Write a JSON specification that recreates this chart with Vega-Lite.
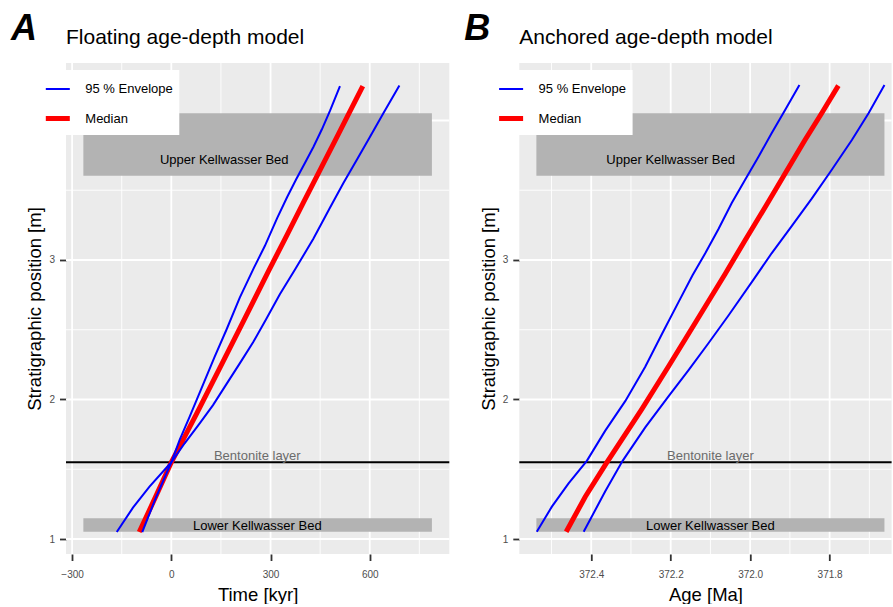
{
  "$schema": "https://vega.github.io/schema/vega-lite/v6.json",
  "padding": {"left": 10, "top": 10, "right": 0, "bottom": 0},
  "spacing": 12.3,
  "background": "white",
  "datasets": {
    "linesA": [
      {"line": "median", "series": "Median", "x": -97, "y": 1.05},
      {"line": "median", "series": "Median", "x": -48, "y": 1.3},
      {"line": "median", "series": "Median", "x": 0, "y": 1.55},
      {"line": "median", "series": "Median", "x": 75.8, "y": 1.895},
      {"line": "median", "series": "Median", "x": 146.4, "y": 2.225},
      {"line": "median", "series": "Median", "x": 217, "y": 2.556},
      {"line": "median", "series": "Median", "x": 292.7, "y": 2.915},
      {"line": "median", "series": "Median", "x": 350, "y": 3.18},
      {"line": "median", "series": "Median", "x": 400, "y": 3.415},
      {"line": "median", "series": "Median", "x": 455, "y": 3.67},
      {"line": "median", "series": "Median", "x": 506, "y": 3.905},
      {"line": "median", "series": "Median", "x": 579, "y": 4.247},
      {"line": "fast", "series": "95 % Envelope", "x": -88, "y": 1.05},
      {"line": "fast", "series": "95 % Envelope", "x": -45.5, "y": 1.303},
      {"line": "fast", "series": "95 % Envelope", "x": 0, "y": 1.55},
      {"line": "fast", "series": "95 % Envelope", "x": 25.2, "y": 1.71},
      {"line": "fast", "series": "95 % Envelope", "x": 55.5, "y": 1.877},
      {"line": "fast", "series": "95 % Envelope", "x": 100, "y": 2.13},
      {"line": "fast", "series": "95 % Envelope", "x": 131.2, "y": 2.307},
      {"line": "fast", "series": "95 % Envelope", "x": 166.7, "y": 2.5},
      {"line": "fast", "series": "95 % Envelope", "x": 207, "y": 2.73},
      {"line": "fast", "series": "95 % Envelope", "x": 250, "y": 2.945},
      {"line": "fast", "series": "95 % Envelope", "x": 282.7, "y": 3.1},
      {"line": "fast", "series": "95 % Envelope", "x": 320, "y": 3.3},
      {"line": "fast", "series": "95 % Envelope", "x": 350, "y": 3.45},
      {"line": "fast", "series": "95 % Envelope", "x": 378, "y": 3.58},
      {"line": "fast", "series": "95 % Envelope", "x": 404, "y": 3.695},
      {"line": "fast", "series": "95 % Envelope", "x": 430, "y": 3.812},
      {"line": "fast", "series": "95 % Envelope", "x": 455, "y": 3.935},
      {"line": "fast", "series": "95 % Envelope", "x": 480, "y": 4.07},
      {"line": "fast", "series": "95 % Envelope", "x": 510, "y": 4.247},
      {"line": "slow", "series": "95 % Envelope", "x": -165, "y": 1.05},
      {"line": "slow", "series": "95 % Envelope", "x": -116, "y": 1.225},
      {"line": "slow", "series": "95 % Envelope", "x": -66, "y": 1.375},
      {"line": "slow", "series": "95 % Envelope", "x": 0, "y": 1.55},
      {"line": "slow", "series": "95 % Envelope", "x": 40.3, "y": 1.686},
      {"line": "slow", "series": "95 % Envelope", "x": 85.8, "y": 1.829},
      {"line": "slow", "series": "95 % Envelope", "x": 126.1, "y": 1.96},
      {"line": "slow", "series": "95 % Envelope", "x": 166.7, "y": 2.11},
      {"line": "slow", "series": "95 % Envelope", "x": 207, "y": 2.259},
      {"line": "slow", "series": "95 % Envelope", "x": 247.3, "y": 2.41},
      {"line": "slow", "series": "95 % Envelope", "x": 287.9, "y": 2.58},
      {"line": "slow", "series": "95 % Envelope", "x": 328.2, "y": 2.755},
      {"line": "slow", "series": "95 % Envelope", "x": 373.6, "y": 2.93},
      {"line": "slow", "series": "95 % Envelope", "x": 429.1, "y": 3.15},
      {"line": "slow", "series": "95 % Envelope", "x": 479.7, "y": 3.375},
      {"line": "slow", "series": "95 % Envelope", "x": 520, "y": 3.55},
      {"line": "slow", "series": "95 % Envelope", "x": 560.6, "y": 3.717},
      {"line": "slow", "series": "95 % Envelope", "x": 600.9, "y": 3.884},
      {"line": "slow", "series": "95 % Envelope", "x": 641.2, "y": 4.052},
      {"line": "slow", "series": "95 % Envelope", "x": 689.7, "y": 4.25}
    ],
    "linesB": [
      {"line": "median", "series": "Median", "x": 372.463, "y": 1.052},
      {"line": "median", "series": "Median", "x": 372.415, "y": 1.303},
      {"line": "median", "series": "Median", "x": 372.361, "y": 1.547},
      {"line": "median", "series": "Median", "x": 372.273, "y": 1.93},
      {"line": "median", "series": "Median", "x": 372.206, "y": 2.235},
      {"line": "median", "series": "Median", "x": 372.138, "y": 2.55},
      {"line": "median", "series": "Median", "x": 372.063, "y": 2.9},
      {"line": "median", "series": "Median", "x": 372.013, "y": 3.14},
      {"line": "median", "series": "Median", "x": 371.962, "y": 3.38},
      {"line": "median", "series": "Median", "x": 371.912, "y": 3.62},
      {"line": "median", "series": "Median", "x": 371.862, "y": 3.86},
      {"line": "median", "series": "Median", "x": 371.82, "y": 4.052},
      {"line": "median", "series": "Median", "x": 371.778, "y": 4.25},
      {"line": "old", "series": "95 % Envelope", "x": 372.537, "y": 1.052},
      {"line": "old", "series": "95 % Envelope", "x": 372.499, "y": 1.232},
      {"line": "old", "series": "95 % Envelope", "x": 372.457, "y": 1.399},
      {"line": "old", "series": "95 % Envelope", "x": 372.411, "y": 1.56},
      {"line": "old", "series": "95 % Envelope", "x": 372.365, "y": 1.775},
      {"line": "old", "series": "95 % Envelope", "x": 372.314, "y": 1.99},
      {"line": "old", "series": "95 % Envelope", "x": 372.264, "y": 2.235},
      {"line": "old", "series": "95 % Envelope", "x": 372.222, "y": 2.47},
      {"line": "old", "series": "95 % Envelope", "x": 372.18, "y": 2.7},
      {"line": "old", "series": "95 % Envelope", "x": 372.145, "y": 2.89},
      {"line": "old", "series": "95 % Envelope", "x": 372.113, "y": 3.048},
      {"line": "old", "series": "95 % Envelope", "x": 372.08, "y": 3.22},
      {"line": "old", "series": "95 % Envelope", "x": 372.046, "y": 3.41},
      {"line": "old", "series": "95 % Envelope", "x": 372.013, "y": 3.573},
      {"line": "old", "series": "95 % Envelope", "x": 371.979, "y": 3.74},
      {"line": "old", "series": "95 % Envelope", "x": 371.946, "y": 3.908},
      {"line": "old", "series": "95 % Envelope", "x": 371.912, "y": 4.075},
      {"line": "old", "series": "95 % Envelope", "x": 371.876, "y": 4.254},
      {"line": "young", "series": "95 % Envelope", "x": 372.419, "y": 1.052},
      {"line": "young", "series": "95 % Envelope", "x": 372.365, "y": 1.34},
      {"line": "young", "series": "95 % Envelope", "x": 372.321, "y": 1.56},
      {"line": "young", "series": "95 % Envelope", "x": 372.264, "y": 1.8},
      {"line": "young", "series": "95 % Envelope", "x": 372.206, "y": 2.02},
      {"line": "young", "series": "95 % Envelope", "x": 372.155, "y": 2.211},
      {"line": "young", "series": "95 % Envelope", "x": 372.105, "y": 2.403},
      {"line": "young", "series": "95 % Envelope", "x": 372.055, "y": 2.6},
      {"line": "young", "series": "95 % Envelope", "x": 371.992, "y": 2.857},
      {"line": "young", "series": "95 % Envelope", "x": 371.946, "y": 3.048},
      {"line": "young", "series": "95 % Envelope", "x": 371.895, "y": 3.245},
      {"line": "young", "series": "95 % Envelope", "x": 371.845, "y": 3.44},
      {"line": "young", "series": "95 % Envelope", "x": 371.795, "y": 3.645},
      {"line": "young", "series": "95 % Envelope", "x": 371.744, "y": 3.86},
      {"line": "young", "series": "95 % Envelope", "x": 371.702, "y": 4.052},
      {"line": "young", "series": "95 % Envelope", "x": 371.662, "y": 4.254}
    ],
    "bedsA": [
      {"bed": "Upper Kellwasser Bed", "x1": -266, "x2": 788, "y1": 3.604, "y2": 4.052},
      {"bed": "Lower Kellwasser Bed", "x1": -266, "x2": 788, "y1": 1.052, "y2": 1.148}
    ],
    "bedsB": [
      {"bed": "Upper Kellwasser Bed", "x1": 372.538, "x2": 371.662, "y1": 3.604, "y2": 4.052},
      {"bed": "Lower Kellwasser Bed", "x1": 372.538, "x2": 371.662, "y1": 1.052, "y2": 1.148}
    ],
    "labelsA": [
      {"kind": "bed", "label": "Upper Kellwasser Bed", "x": 160, "y": 3.72},
      {"kind": "bed", "label": "Lower Kellwasser Bed", "x": 260, "y": 1.093},
      {"kind": "layer", "label": "Bentonite layer", "x": 260, "y": 1.595}
    ],
    "labelsB": [
      {"kind": "bed", "label": "Upper Kellwasser Bed", "x": 372.2, "y": 3.72},
      {"kind": "bed", "label": "Lower Kellwasser Bed", "x": 372.1, "y": 1.093},
      {"kind": "layer", "label": "Bentonite layer", "x": 372.1, "y": 1.595}
    ],
    "bentonite": [{"y": 1.55}],
    "majorXA": [{"x": -300}, {"x": 0}, {"x": 300}, {"x": 600}],
    "minorXA": [{"x": -150}, {"x": 150}, {"x": 450}, {"x": 750}],
    "majorXB": [{"x": 372.4}, {"x": 372.2}, {"x": 372.0}, {"x": 371.8}],
    "minorXB": [{"x": 372.5}, {"x": 372.3}, {"x": 372.1}, {"x": 371.9}, {"x": 371.7}],
    "majorY": [{"y": 1}, {"y": 2}, {"y": 3}, {"y": 4}],
    "minorY": [{"y": 1.5}, {"y": 2.5}, {"y": 3.5}]
  },
  "hconcat": [
    {
      "title": {"text": "A", "anchor": "start", "frame": "bounds", "fontSize": 36, "fontStyle": "italic", "fontWeight": "bold", "color": "black", "dx": -15, "dy": 24.7},
      "vconcat": [
        {
          "width": 383.3,
          "height": 491,
          "title": {"text": "Floating age-depth model", "anchor": "start", "frame": "group", "fontSize": 21, "fontWeight": "normal", "color": "black", "baseline": "alphabetic", "offset": -3},
          "layer": [
            {
              "data": {"name": "bedsA"},
              "mark": {"type": "rect", "color": "#B3B3B3", "opacity": 0},
              "encoding": {
                "x": {"field": "x1", "type": "quantitative", "scale": {"domain": [-318.5, 840.6], "nice": false, "zero": false}, "axis": {"grid": false, "values": [-300, 0, 300, 600], "format": "d", "title": "Time [kyr]"}},
                "x2": {"field": "x2"},
                "y": {"field": "y1", "type": "quantitative", "scale": {"domain": [0.8925, 4.412], "nice": false, "zero": false}, "axis": {"grid": false, "values": [1, 2, 3, 4], "format": "d", "title": "Stratigraphic position [m]"}},
                "y2": {"field": "y2"}
              }
            },
            {"data": {"name": "minorXA"}, "mark": {"type": "rule", "color": "#FFFFFF", "strokeWidth": 0.9}, "encoding": {"x": {"field": "x", "type": "quantitative"}}},
            {"data": {"name": "minorY"}, "mark": {"type": "rule", "color": "#FFFFFF", "strokeWidth": 0.9}, "encoding": {"y": {"field": "y", "type": "quantitative"}}},
            {"data": {"name": "majorXA"}, "mark": {"type": "rule", "color": "#FFFFFF", "strokeWidth": 1.8}, "encoding": {"x": {"field": "x", "type": "quantitative"}}},
            {"data": {"name": "majorY"}, "mark": {"type": "rule", "color": "#FFFFFF", "strokeWidth": 1.8}, "encoding": {"y": {"field": "y", "type": "quantitative"}}},
            {
              "data": {"name": "bedsA"},
              "mark": {"type": "rect", "color": "#B3B3B3"},
              "encoding": {
                "x": {"field": "x1", "type": "quantitative"},
                "x2": {"field": "x2"},
                "y": {"field": "y1", "type": "quantitative"},
                "y2": {"field": "y2"}
              }
            },
            {
              "data": {"name": "bentonite"},
              "mark": {"type": "rule", "color": "black", "strokeWidth": 2.2},
              "encoding": {"y": {"field": "y", "type": "quantitative"}}
            },
            {
              "data": {"name": "labelsA"},
              "transform": [{"filter": "datum.kind === 'bed'"}],
              "mark": {"type": "text", "fontSize": 13, "color": "black", "baseline": "middle"},
              "encoding": {"x": {"field": "x", "type": "quantitative"}, "y": {"field": "y", "type": "quantitative"}, "text": {"field": "label"}}
            },
            {
              "data": {"name": "labelsA"},
              "transform": [{"filter": "datum.kind === 'layer'"}],
              "mark": {"type": "text", "fontSize": 13, "color": "#6B6B6B", "baseline": "middle"},
              "encoding": {"x": {"field": "x", "type": "quantitative"}, "y": {"field": "y", "type": "quantitative"}, "text": {"field": "label"}}
            },
            {
              "data": {"name": "linesA"},
              "mark": {"type": "line", "strokeCap": "butt"},
              "encoding": {
                "x": {"field": "x", "type": "quantitative"},
                "y": {"field": "y", "type": "quantitative"},
                "detail": {"field": "line"},
                "order": {"field": "y", "type": "quantitative"},
                "color": {"field": "series", "type": "nominal", "scale": {"domain": ["95 % Envelope", "Median"], "range": ["#0000FF", "#FF0000"]}, "legend": {"title": null, "orient": "none", "legendX": -28.7, "legendY": 7}},
                "strokeWidth": {"field": "series", "type": "nominal", "scale": {"domain": ["95 % Envelope", "Median"], "range": [2, 5]}, "legend": {"title": null, "orient": "none", "legendX": -28.7, "legendY": 7}}
              }
            }
          ]
        }
      ]
    },
    {
      "title": {"text": "B", "anchor": "start", "frame": "bounds", "fontSize": 36, "fontStyle": "italic", "fontWeight": "bold", "color": "black", "dx": -15, "dy": 24.7},
      "vconcat": [
        {
          "width": 372.3,
          "height": 491,
          "title": {"text": "Anchored age-depth model", "anchor": "start", "frame": "group", "fontSize": 21, "fontWeight": "normal", "color": "black", "baseline": "alphabetic", "offset": -3},
          "layer": [
            {
              "data": {"name": "bedsB"},
              "mark": {"type": "rect", "color": "#B3B3B3", "opacity": 0},
              "encoding": {
                "x": {"field": "x1", "type": "quantitative", "scale": {"domain": [371.644, 372.581], "reverse": true, "nice": false, "zero": false}, "axis": {"grid": false, "values": [372.4, 372.2, 372.0, 371.8], "format": ".1f", "title": "Age [Ma]"}},
                "x2": {"field": "x2"},
                "y": {"field": "y1", "type": "quantitative", "scale": {"domain": [0.8925, 4.412], "nice": false, "zero": false}, "axis": {"grid": false, "values": [1, 2, 3, 4], "format": "d", "title": "Stratigraphic position [m]"}},
                "y2": {"field": "y2"}
              }
            },
            {"data": {"name": "minorXB"}, "mark": {"type": "rule", "color": "#FFFFFF", "strokeWidth": 0.9}, "encoding": {"x": {"field": "x", "type": "quantitative"}}},
            {"data": {"name": "minorY"}, "mark": {"type": "rule", "color": "#FFFFFF", "strokeWidth": 0.9}, "encoding": {"y": {"field": "y", "type": "quantitative"}}},
            {"data": {"name": "majorXB"}, "mark": {"type": "rule", "color": "#FFFFFF", "strokeWidth": 1.8}, "encoding": {"x": {"field": "x", "type": "quantitative"}}},
            {"data": {"name": "majorY"}, "mark": {"type": "rule", "color": "#FFFFFF", "strokeWidth": 1.8}, "encoding": {"y": {"field": "y", "type": "quantitative"}}},
            {
              "data": {"name": "bedsB"},
              "mark": {"type": "rect", "color": "#B3B3B3"},
              "encoding": {
                "x": {"field": "x1", "type": "quantitative"},
                "x2": {"field": "x2"},
                "y": {"field": "y1", "type": "quantitative"},
                "y2": {"field": "y2"}
              }
            },
            {
              "data": {"name": "bentonite"},
              "mark": {"type": "rule", "color": "black", "strokeWidth": 2.2},
              "encoding": {"y": {"field": "y", "type": "quantitative"}}
            },
            {
              "data": {"name": "labelsB"},
              "transform": [{"filter": "datum.kind === 'bed'"}],
              "mark": {"type": "text", "fontSize": 13, "color": "black", "baseline": "middle"},
              "encoding": {"x": {"field": "x", "type": "quantitative"}, "y": {"field": "y", "type": "quantitative"}, "text": {"field": "label"}}
            },
            {
              "data": {"name": "labelsB"},
              "transform": [{"filter": "datum.kind === 'layer'"}],
              "mark": {"type": "text", "fontSize": 13, "color": "#6B6B6B", "baseline": "middle"},
              "encoding": {"x": {"field": "x", "type": "quantitative"}, "y": {"field": "y", "type": "quantitative"}, "text": {"field": "label"}}
            },
            {
              "data": {"name": "linesB"},
              "mark": {"type": "line", "strokeCap": "butt"},
              "encoding": {
                "x": {"field": "x", "type": "quantitative"},
                "y": {"field": "y", "type": "quantitative"},
                "detail": {"field": "line"},
                "order": {"field": "y", "type": "quantitative"},
                "color": {"field": "series", "type": "nominal", "scale": {"domain": ["95 % Envelope", "Median"], "range": ["#0000FF", "#FF0000"]}, "legend": {"title": null, "orient": "none", "legendX": -28.7, "legendY": 7}},
                "strokeWidth": {"field": "series", "type": "nominal", "scale": {"domain": ["95 % Envelope", "Median"], "range": [2, 5]}, "legend": {"title": null, "orient": "none", "legendX": -28.7, "legendY": 7}}
              }
            }
          ]
        }
      ]
    }
  ],
  "resolve": {
    "scale": {"x": "independent", "y": "independent", "color": "independent", "strokeWidth": "independent"},
    "legend": {"color": "independent", "strokeWidth": "independent"}
  },
  "config": {
    "font": "Liberation Sans",
    "view": {"fill": "#EBEBEB", "stroke": null},
    "axis": {
      "domain": false,
      "grid": false,
      "tickColor": "#333333",
      "tickWidth": 1.8,
      "tickSize": 6.5,
      "labelColor": "#4D4D4D",
      "labelFontSize": 10,
      "labelPadding": 5,
      "titleFontSize": 18.5,
      "titleFontWeight": "normal",
      "titleColor": "black"
    },
    "axisX": {"titlePadding": 6, "labelPadding": 9},
    "axisY": {"titlePadding": 4},
    "legend": {
      "fillColor": "white",
      "padding": 6,
      "symbolType": "stroke",
      "symbolSize": 576,
      "labelFontSize": 13,
      "labelColor": "black",
      "labelOffset": 13,
      "rowPadding": 8,
      "labelLimit": 200
    }
  }
}
